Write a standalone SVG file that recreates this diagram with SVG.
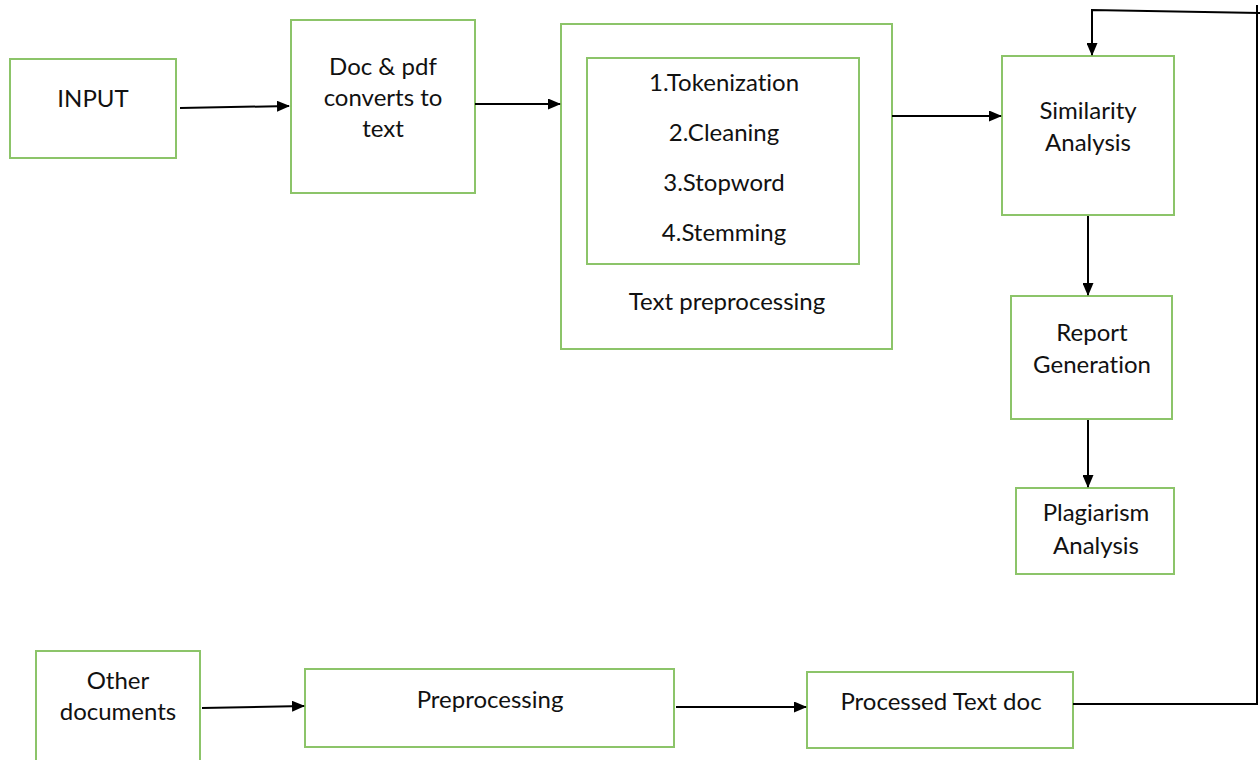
<svg xmlns="http://www.w3.org/2000/svg" width="1260" height="760" viewBox="0 0 1260 760">
<defs>
<marker id="ah" markerWidth="13" markerHeight="11" refX="12" refY="5.5" orient="auto" markerUnits="userSpaceOnUse">
<path d="M0,0 L13,5.5 L0,11 Z" fill="#000"/>
</marker>
<style>
.box{fill:#fff;stroke:#8cc469;stroke-width:2}
.t{font-family:Lato,"Open Sans",sans-serif;font-size:24px;fill:#111;text-anchor:middle;font-variant-ligatures:none}
.c{fill:none;stroke:#000;stroke-width:2}
</style>
</defs>
<rect width="1260" height="760" fill="#fff"/>
<g id="input"><rect class="box" x="10" y="59" width="166" height="99"/><text class="t" x="93" y="107">INPUT</text></g>
<g id="doc"><rect class="box" x="291" y="20" width="184" height="173"/><text class="t" x="383" y="75">Doc &amp; pdf</text><text class="t" x="383" y="106">converts to</text><text class="t" x="383" y="137">text</text></g>
<g id="textpre"><rect class="box" x="561" y="24" width="331" height="325"/><text class="t" x="727" y="310">Text preprocessing</text></g>
<g id="steps"><rect class="box" x="587" y="58" width="272" height="206"/><text class="t" x="724" y="91">1.Tokenization</text><text class="t" x="724" y="141">2.Cleaning</text><text class="t" x="724" y="191">3.Stopword</text><text class="t" x="724" y="241">4.Stemming</text></g>
<g id="similarity"><rect class="box" x="1002" y="56" width="172" height="159"/><text class="t" x="1088" y="119">Similarity</text><text class="t" x="1088" y="151">Analysis</text></g>
<g id="report"><rect class="box" x="1011" y="296" width="161" height="123"/><text class="t" x="1092" y="341">Report</text><text class="t" x="1092" y="373">Generation</text></g>
<g id="plagiarism"><rect class="box" x="1016" y="488" width="158" height="86"/><text class="t" x="1096" y="521">Plagiarism</text><text class="t" x="1096" y="554">Analysis</text></g>
<g id="other"><rect class="box" x="36" y="651" width="164" height="112"/><text class="t" x="118" y="689">Other</text><text class="t" x="118" y="720">documents</text></g>
<g id="preprocessing"><rect class="box" x="305" y="669" width="369" height="78"/><text class="t" x="490" y="708">Preprocessing</text></g>
<g id="processed"><rect class="box" x="807" y="672" width="266" height="76"/><text class="t" x="941" y="710">Processed Text doc</text></g>
<g id="connectors">
<line class="c" x1="180" y1="108" x2="289" y2="106" marker-end="url(#ah)"/>
<line class="c" x1="475" y1="104" x2="560" y2="104" marker-end="url(#ah)"/>
<line class="c" x1="892" y1="116" x2="1001" y2="116" marker-end="url(#ah)"/>
<line class="c" x1="1088" y1="216" x2="1088" y2="295" marker-end="url(#ah)"/>
<line class="c" x1="1088" y1="420" x2="1088" y2="487" marker-end="url(#ah)"/>
<line class="c" x1="202" y1="708" x2="304" y2="706" marker-end="url(#ah)"/>
<line class="c" x1="676" y1="707" x2="806" y2="707" marker-end="url(#ah)"/>
<polyline class="c" points="1073,704 1257,704 1257,5"/>
<polyline class="c" points="1260,13 1092,10 1092,55" marker-end="url(#ah)"/>
</g>
</svg>
